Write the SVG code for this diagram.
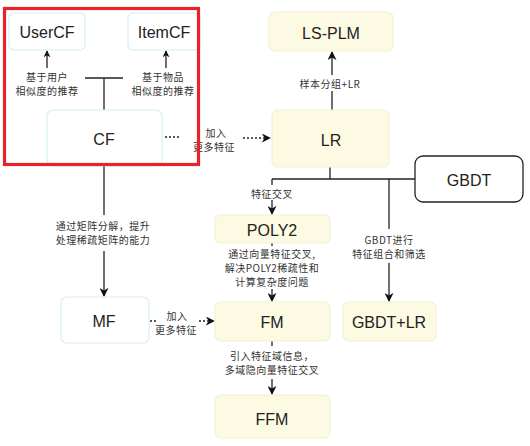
<svg xmlns="http://www.w3.org/2000/svg" width="530" height="446" viewBox="0 0 530 446">
<defs>
<style>
.cy{fill:#ffffff;stroke:#d6eef4;stroke-width:1.2}
.yl{fill:#fcfae2;stroke:#f3f0d2;stroke-width:1.2}
.wb{fill:#ffffff;stroke:#222;stroke-width:1.3}
.nt{font-family:"Liberation Sans","Noto Sans CJK SC",sans-serif;font-size:16px;fill:#222;text-anchor:middle;dominant-baseline:central}
.lb{font-family:"Noto Sans CJK SC","Liberation Sans",sans-serif;font-size:10px;letter-spacing:0.5px;fill:#333;text-anchor:middle;dominant-baseline:central}
.ln{stroke:#222;stroke-width:1.3;fill:none}
.dt{stroke:#222;stroke-width:1.3;fill:none;stroke-dasharray:2 2}
</style>
<marker id="ah" viewBox="0 0 10 10" refX="9" refY="5" markerWidth="7" markerHeight="7" orient="auto" markerUnits="userSpaceOnUse">
<path d="M0,0 L10,5 L0,10 L3,5 z" fill="#111"/>
</marker>
<marker id="ah2" viewBox="0 0 10 10" refX="9" refY="5" markerWidth="9" markerHeight="9" orient="auto" markerUnits="userSpaceOnUse">
<path d="M0,0 L10,5 L0,10 L3,5 z" fill="#111"/>
</marker>
</defs>
<rect width="530" height="446" fill="#ffffff"/>

<g id="connectors">
<line class="ln" x1="47" y1="68" x2="47" y2="51" marker-end="url(#ah)"/>
<line class="ln" x1="166" y1="68" x2="166" y2="51" marker-end="url(#ah)"/>
<line class="ln" x1="85" y1="78" x2="123" y2="78"/>
<line class="ln" x1="104" y1="78" x2="104" y2="110"/>
<line class="dt" x1="165" y1="137" x2="181" y2="137"/>
<line class="dt" x1="243" y1="138" x2="270" y2="138" marker-end="url(#ah2)"/>
<line class="ln" x1="332" y1="110" x2="332" y2="91"/>
<line class="ln" x1="332" y1="75" x2="332" y2="52" marker-end="url(#ah2)"/>
<line class="ln" x1="330" y1="167" x2="330" y2="179"/>
<line class="ln" x1="272" y1="179" x2="415" y2="179"/>
<line class="ln" x1="272" y1="179" x2="272" y2="185"/>
<line class="ln" x1="272" y1="200" x2="272" y2="214" marker-end="url(#ah2)"/>
<line class="ln" x1="389" y1="179" x2="389" y2="229"/>
<line class="ln" x1="389" y1="263" x2="389" y2="301" marker-end="url(#ah2)"/>
<line class="ln" x1="272" y1="243" x2="272" y2="246"/>
<line class="ln" x1="272" y1="289" x2="272" y2="301" marker-end="url(#ah2)"/>
<line class="ln" x1="104" y1="166" x2="104" y2="215"/>
<line class="ln" x1="104" y1="251" x2="104" y2="296" marker-end="url(#ah2)"/>
<line class="dt" x1="150" y1="321" x2="156" y2="321"/>
<line class="dt" x1="199" y1="321" x2="214" y2="321" marker-end="url(#ah2)"/>
<line class="ln" x1="272" y1="341" x2="272" y2="346"/>
<line class="ln" x1="272" y1="379" x2="272" y2="394" marker-end="url(#ah2)"/>
</g>

<g id="labels">
<text class="lb" x="47" y="76">基于用户</text>
<text class="lb" x="47" y="90">相似度的推荐</text>
<text class="lb" x="163" y="76">基于物品</text>
<text class="lb" x="163" y="90">相似度的推荐</text>
<text class="lb" x="216" y="132">加入</text>
<text class="lb" x="214" y="146">更多特征</text>
<text class="lb" x="330" y="83">样本分组+LR</text>
<text class="lb" x="272" y="193">特征交叉</text>
<text class="lb" x="389" y="239">GBDT进行</text>
<text class="lb" x="389" y="253">特征组合和筛选</text>
<text class="lb" x="272" y="253">通过向量特征交叉,</text>
<text class="lb" x="272" y="267">解决POLY2稀疏性和</text>
<text class="lb" x="272" y="281">计算复杂度问题</text>
<text class="lb" x="103" y="225">通过矩阵分解，提升</text>
<text class="lb" x="103" y="239">处理稀疏矩阵的能力</text>
<text class="lb" x="177" y="315">加入</text>
<text class="lb" x="176" y="329">更多特征</text>
<text class="lb" x="272" y="355">引入特征域信息，</text>
<text class="lb" x="272" y="369">多域隐向量特征交叉</text>
</g>

<g id="node-usercf"><rect class="cy" x="9" y="13" width="76" height="37" rx="5"/><text class="nt" x="47" y="32">UserCF</text></g>
<g id="node-itemcf"><rect class="cy" x="128" y="13" width="72" height="37" rx="5"/><text class="nt" x="164" y="32">ItemCF</text></g>
<g id="node-cf"><rect class="cy" x="47" y="110" width="115" height="56" rx="6"/><text class="nt" x="104" y="139">CF</text></g>
<g id="node-lsplm"><rect class="yl" x="269" y="12" width="124" height="39" rx="6"/><text class="nt" x="331" y="33">LS-PLM</text></g>
<g id="node-lr"><rect class="yl" x="272" y="110" width="117" height="57" rx="6"/><text class="nt" x="331" y="140">LR</text></g>
<g id="node-gbdt"><rect class="wb" x="415" y="156" width="108" height="46" rx="8"/><text class="nt" x="469" y="180">GBDT</text></g>
<g id="node-poly2"><rect class="yl" x="215" y="215" width="115" height="28" rx="5"/><text class="nt" x="272" y="230">POLY2</text></g>
<g id="node-mf"><rect class="cy" x="61" y="297" width="88" height="46" rx="6"/><text class="nt" x="104" y="321">MF</text></g>
<g id="node-fm"><rect class="yl" x="215" y="302" width="115" height="39" rx="6"/><text class="nt" x="272" y="322">FM</text></g>
<g id="node-gbdtlr"><rect class="yl" x="343" y="302" width="93" height="39" rx="6"/><text class="nt" x="389" y="322">GBDT+LR</text></g>
<g id="node-ffm"><rect class="yl" x="215" y="395" width="115" height="43" rx="6"/><text class="nt" x="272" y="419">FFM</text></g>

<g id="highlight"><rect x="4.5" y="8.5" width="194" height="156" fill="none" stroke="#e8232a" stroke-width="3.2"/></g>
</svg>
